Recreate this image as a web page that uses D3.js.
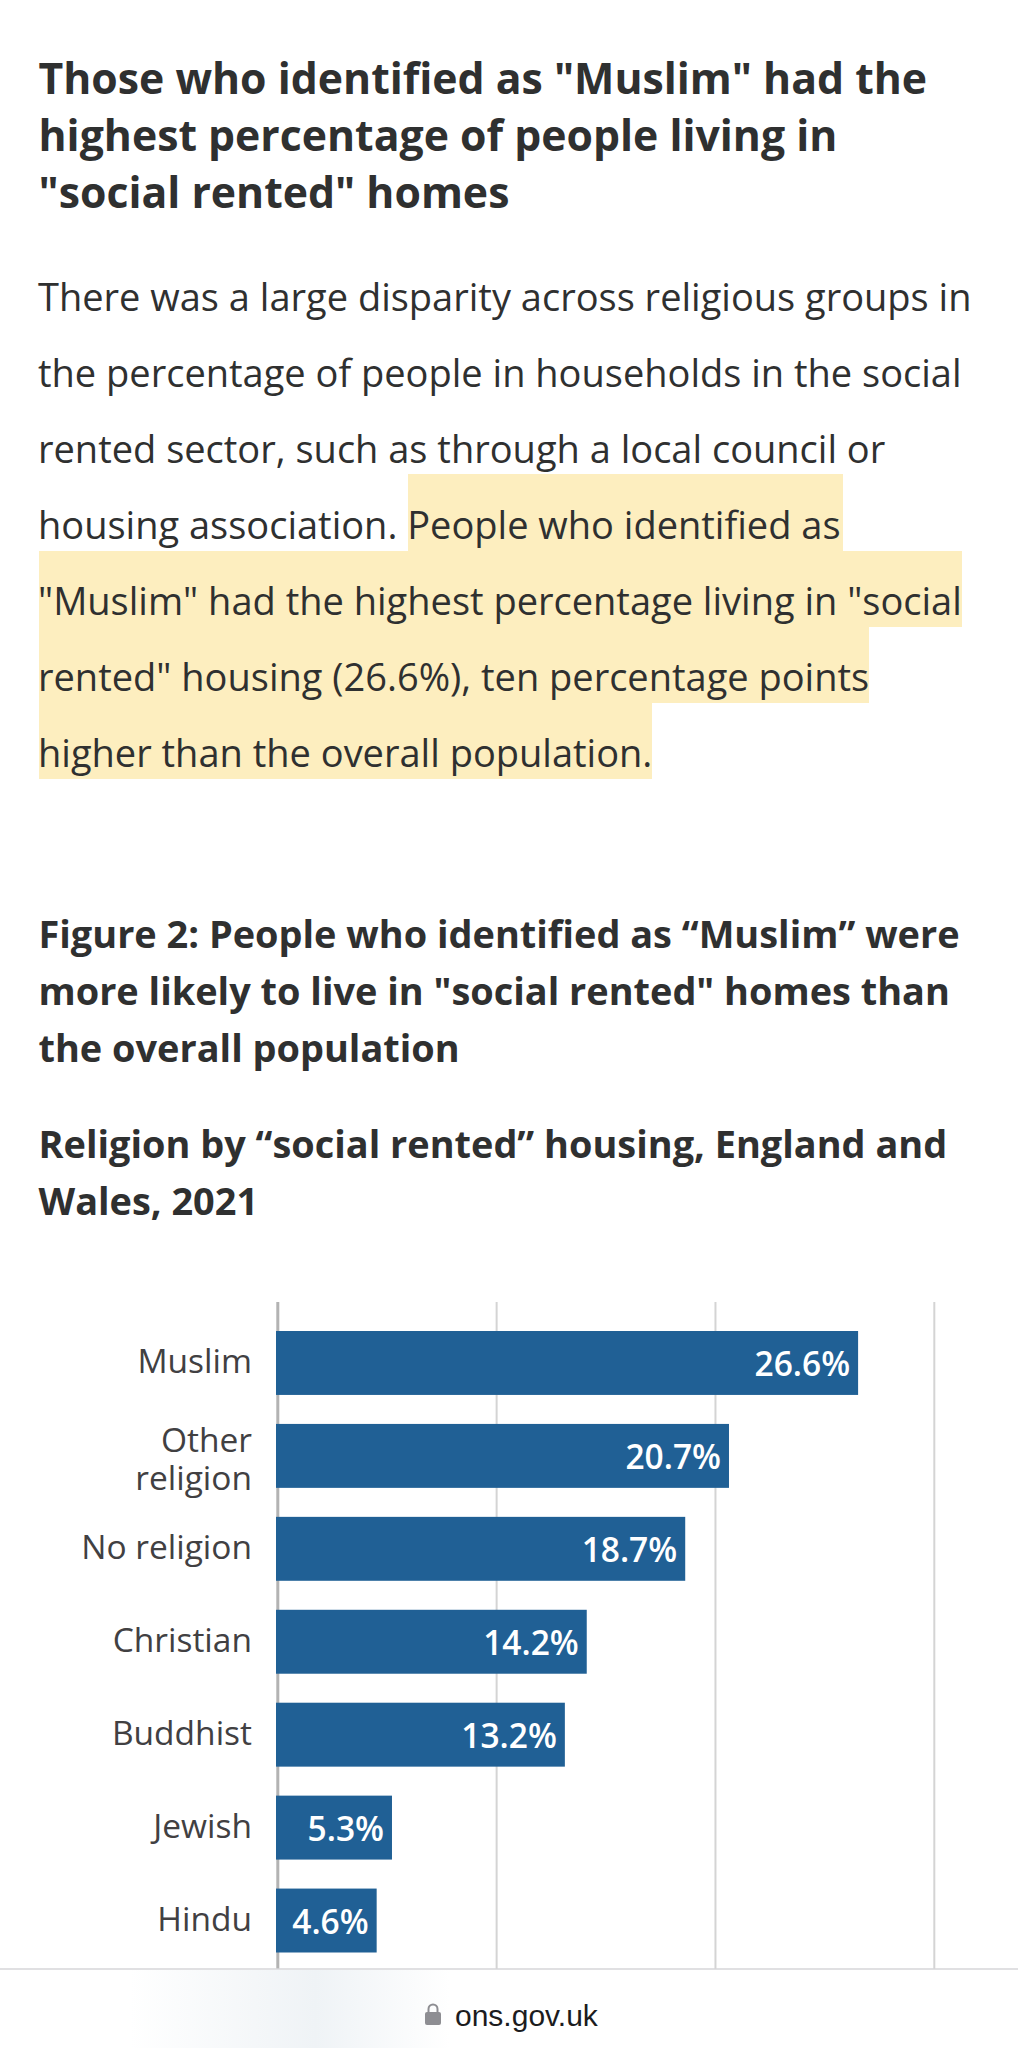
<!DOCTYPE html>
<html>
<head>
<meta charset="utf-8">
<script src="https://cdn.jsdelivr.net/npm/d3@7"></script>
<style>
    html, body { margin: 0; padding: 0; background: #fff; }
    svg { display: block; }
    text { font-family: "Open Sans", sans-serif; }
</style>
</head>
<body>
<div id="viz"></div>
<script>
const categories = ["Muslim", "Other religion", "No religion", "Christian", "Buddhist", "Jewish", "Hindu"];
const values = [26.6, 20.7, 18.7, 14.2, 13.2, 5.3, 4.6];
const gridTicks = [0, 10, 20, 30];

const headingLines = ['Those who identified as "Muslim" had the', 'highest percentage of people living in', '"social rented" homes'];
const bodyLines = [
    'There was a large disparity across religious groups in',
    'the percentage of people in households in the social',
    'rented sector, such as through a local council or',
    'housing association. People who identified as',
    '"Muslim" had the highest percentage living in "social',
    'rented" housing (26.6%), ten percentage points',
    'higher than the overall population.'
];
const figureLines = ['Figure 2: People who identified as “Muslim” were', 'more likely to live in "social rented" homes than', 'the overall population'];
const subtitleLines = ['Religion by “social rented” housing, England and', 'Wales, 2021'];

const width = 1018, height = 2048;
const ink = "#2f3030";

const svg = d3.select("#viz").append("svg").attr("width", width).attr("height", height);

// highlighted part of the paragraph, one box per line
const highlights = [[408, 843, 474, 551], [39, 962, 551, 627], [39, 869, 627, 703], [39, 652, 703, 779]];
svg.append("g").selectAll("rect").data(highlights).enter().append("rect")
    .attr("x", d => d[0]).attr("y", d => d[2])
    .attr("width", d => d[1] - d[0]).attr("height", d => d[3] - d[2])
    .attr("fill", "#fdeebf");

function textBlock(lines, x, firstBaseline, lineGap, size, weight, color) {
    svg.append("g").selectAll("text").data(lines).enter().append("text")
        .attr("x", x)
        .attr("y", (d, i) => firstBaseline + i * lineGap)
        .attr("font-size", size)
        .attr("font-weight", weight)
        .attr("fill", color)
        .text(d => d);
}
textBlock(headingLines, 38.5, 94, 57, 42.75, 700, ink);
textBlock(bodyLines, 38, 311, 76, 38, 400, ink);
textBlock(figureLines, 38.5, 948, 57.2, 37.9, 700, ink);
textBlock(subtitleLines, 38.5, 1158, 57.2, 37.9, 700, ink);

// chart
const x = d3.scaleLinear().domain([0, 30]).range([276, 932.5]);
const y = d3.scaleBand().domain(categories).range([1331, 1952.5]).paddingInner(0.312);

const grid = svg.append("g").attr("transform", "translate(1.3,1302)")
    .call(d3.axisBottom(x).tickValues(gridTicks).tickSize(667).tickFormat(""));
grid.select(".domain").remove();
grid.selectAll("line")
    .attr("stroke", d => d === 0 ? "#b3b3b3" : "#d4d4d4")
    .attr("stroke-width", d => d === 0 ? 3 : 2);

svg.append("g").selectAll("rect").data(values).enter().append("rect")
    .attr("x", x(0))
    .attr("y", (d, i) => y(categories[i]))
    .attr("width", d => x(d) - x(0))
    .attr("height", y.bandwidth())
    .attr("fill", "#206095");

svg.append("g").selectAll("text").data(values).enter().append("text")
    .attr("x", d => x(d) - 8)
    .attr("y", (d, i) => y(categories[i]) + 45)
    .attr("text-anchor", "end")
    .attr("font-size", 33.5)
    .attr("font-weight", 550)
    .attr("fill", "#fff")
    .text(d => d.toFixed(1) + "%");

const labels = svg.append("g").selectAll("text").data(categories).enter().append("text")
    .attr("text-anchor", "end")
    .attr("font-size", 33.5)
    .attr("fill", "#414042");
labels.each(function (d) {
    // only "Other religion" is wrapped in the original
    const parts = d === "Other religion" ? d.split(" ") : [d];
    const top = y(d);
    d3.select(this).selectAll("tspan").data(parts).enter().append("tspan")
        .attr("x", 252)
        .attr("y", (p, i) => parts.length > 1 ? top + 28 + i * 38 : top + 42)
        .text(p => p);
});

// browser address bar along the bottom
const defs = svg.append("defs");
const fade = defs.append("linearGradient").attr("id", "fade");
fade.append("stop").attr("offset", "0%").attr("stop-color", "#fff");
fade.append("stop").attr("offset", "58%").attr("stop-color", "#eff3f6");
fade.append("stop").attr("offset", "100%").attr("stop-color", "#fff");
svg.append("rect").attr("x", 0).attr("y", 1969).attr("width", width).attr("height", 79).attr("fill", "#fff");
svg.append("rect").attr("x", 130).attr("y", 1970).attr("width", 320).attr("height", 78).attr("fill", "url(#fade)");
svg.append("line").attr("x1", 0).attr("x2", width).attr("y1", 1969).attr("y2", 1969).attr("stroke", "#d6d6d8").attr("stroke-width", 1.5);
svg.append("path")
    .attr("d", "M428.5 2012 v-3 a4.5 4.5 0 0 1 9 0 v3")
    .attr("fill", "none").attr("stroke", "#8e8e93").attr("stroke-width", 2);
svg.append("rect").attr("x", 425).attr("y", 2012).attr("width", 16).attr("height", 13).attr("rx", 2)
    .attr("fill", "#8e8e93");
svg.append("text").attr("x", 455).attr("y", 2026)
    .attr("font-size", 30).attr("fill", "#1c1c1e")
    .style("font-family", "'Liberation Sans', sans-serif")
    .text("ons.gov.uk");
</script>
</body>
</html>
